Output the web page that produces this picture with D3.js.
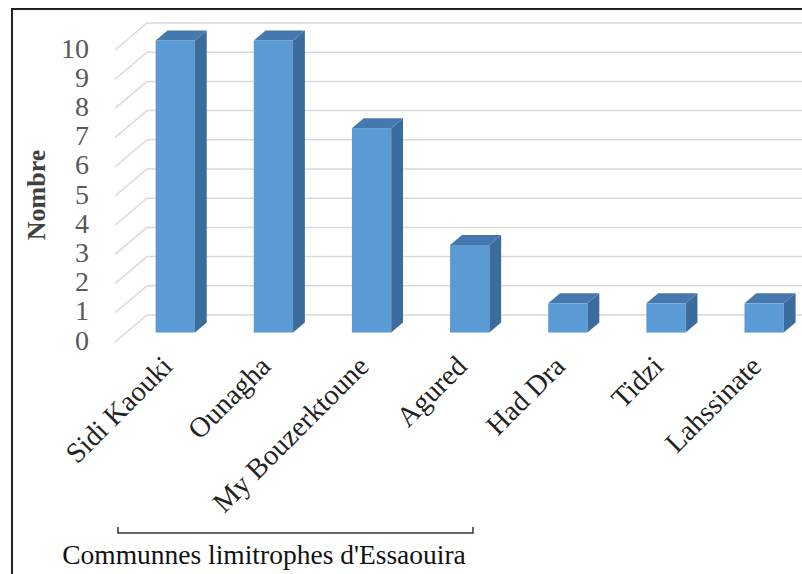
<!DOCTYPE html>
<html>
<head>
<meta charset="utf-8">
<script src="https://cdn.jsdelivr.net/npm/d3@7"></script>
<style>
  body { margin: 0; background: #fff; }
  svg { display: block; font-family: "Liberation Serif", "Times New Roman", serif; }
</style>
</head>
<body>
<div id="chart"></div>
<script>
// data
let communes = ["Sidi Kaouki", "Ounagha", "My Bouzerktoune", "Agured", "Had Dra", "Tidzi", "Lahssinate"];
let nombre = [10, 10, 7, 3, 1, 1, 1];
let yTicks = [0, 1, 2, 3, 4, 5, 6, 7, 8, 9, 10];
let yTitle = "Nombre";
let groupTitle = "Communnes limitrophes d'Essaouira";

let width = 802, height = 574;

// the 3d box: front plane, pushed back by (depthX, depthY)
let depthX = 32, depthY = -27;
let barT0 = 0.35, barT1 = 0.72;   // bar front / back as fraction of the depth

let x = d3.scaleBand().domain(communes).range([115, 802])
  .paddingInner(0.6).paddingOuter(0.3);
let y = d3.scaleLinear().domain([0, 10]).range([342, 50]);

function shift(t) { return [depthX * t, depthY * t]; }

let svg = d3.select("#chart").append("svg")
  .attr("width", width)
  .attr("height", height);

// frame
svg.append("rect")
  .attr("x", 12).attr("y", 9)
  .attr("width", width).attr("height", height)
  .attr("fill", "none")
  .attr("stroke", "#222")
  .attr("stroke-width", 2);

// gridlines: side wall diagonal + back wall horizontal
let grid = svg.append("g").attr("stroke", "#d9d9d9").attr("stroke-width", 1.5);
grid.selectAll("line.side")
  .data(yTicks).enter().append("line")
  .attr("class", "side")
  .attr("x1", 115).attr("y1", d => y(d))
  .attr("x2", 115 + depthX).attr("y2", d => y(d) + depthY);
grid.selectAll("line.back")
  .data(yTicks).enter().append("line")
  .attr("class", "back")
  .attr("x1", 115 + depthX).attr("y1", d => y(d) + depthY)
  .attr("x2", width).attr("y2", d => y(d) + depthY);

// y tick labels
svg.append("g").selectAll("text")
  .data(yTicks).enter().append("text")
  .attr("x", 89)
  .attr("y", d => y(d) - 2)
  .attr("text-anchor", "end")
  .attr("dominant-baseline", "central")
  .attr("fill", "#595959")
  .attr("font-size", 28)
  .text(d => d);

// y axis title
svg.append("text")
  .attr("transform", "translate(45,195) rotate(-90)")
  .attr("text-anchor", "middle")
  .attr("font-size", 26)
  .attr("font-weight", "bold")
  .attr("fill", "#404040")
  .text(yTitle);

// 3d bars
let f = shift(barT0), b = shift(barT1);
let ddx = b[0] - f[0], ddy = b[1] - f[1];
let bars = svg.append("g").selectAll("g")
  .data(communes.map((c, i) => ({ c: c, v: nombre[i] })))
  .enter().append("g")
  .attr("transform", d => "translate(" + (x(d.c) + f[0]) + "," + f[1] + ")");

let bw = x.bandwidth();
bars.append("rect")
  .attr("x", 0).attr("y", d => y(d.v))
  .attr("width", bw).attr("height", d => y(0) - y(d.v))
  .attr("fill", "#5b9bd5");
bars.append("path")
  .attr("d", d => `M ${bw},${y(d.v)} L ${bw + ddx},${y(d.v) + ddy} L ${bw + ddx},${y(0) + ddy} L ${bw},${y(0)} Z`)
  .attr("fill", "#3b6c9b");
bars.append("path")
  .attr("d", d => `M 0,${y(d.v)} L ${ddx},${y(d.v) + ddy} L ${bw + ddx},${y(d.v) + ddy} L ${bw},${y(d.v)} Z`)
  .attr("fill", "#4678b0");

// x labels, rotated
svg.append("g").selectAll("text")
  .data(communes).enter().append("text")
  .attr("transform", d => "translate(" + (x(d) + bw / 2 + 10) + ",368) rotate(-45)")
  .attr("text-anchor", "end")
  .attr("font-size", 28.5)
  .attr("fill", "#222")
  .text(d => d);

// bracket under the first four communes
svg.append("path")
  .attr("d", "M 118,527 L 118,533 L 473,533 L 473,527")
  .attr("fill", "none")
  .attr("stroke", "#333")
  .attr("stroke-width", 1.5);

svg.append("text")
  .attr("x", 264).attr("y", 564)
  .attr("text-anchor", "middle")
  .attr("font-size", 27.5)
  .attr("fill", "#111")
  .text(groupTitle);
</script>
</body>
</html>
